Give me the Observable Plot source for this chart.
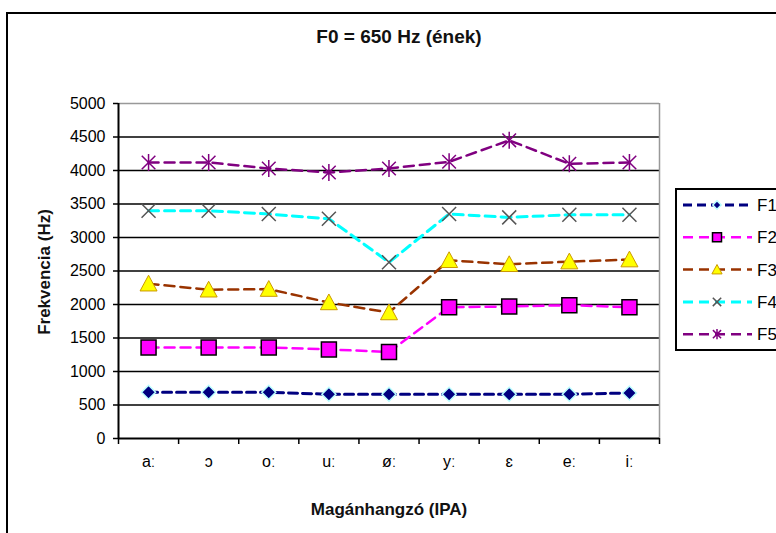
<!DOCTYPE html>
<html><head><meta charset="utf-8">
<script src="https://cdn.jsdelivr.net/npm/d3@7"></script>
<script src="https://cdn.jsdelivr.net/npm/@observablehq/plot@0.6"></script>
<style>
body{margin:0;background:#fff;font-family:"Liberation Sans",Arial,sans-serif;}
#wrap{position:relative;width:776px;height:533px;overflow:hidden;background:#fff;}
#frame{position:absolute;left:6px;top:12px;width:820px;height:580px;border:2px solid #000;box-sizing:border-box;}
#title{position:absolute;left:0;width:798px;top:26px;text-align:center;font-weight:bold;font-size:19px;color:#111;}
#chart{position:absolute;left:0;top:60px;}
#ytitle{position:absolute;left:45px;top:272px;transform:translate(-50%,-50%) rotate(-90deg);font-weight:bold;font-size:17px;white-space:nowrap;color:#111;}
#xtitle{position:absolute;left:389px;top:510px;transform:translate(-50%,-50%);font-weight:bold;font-size:17px;white-space:nowrap;color:#111;}
#legend{position:absolute;left:675px;top:188px;width:130px;height:163px;border:2px solid #000;box-sizing:border-box;background:#fff;}
</style></head>
<body>
<div id="wrap">
  <div id="frame"></div>
  <div id="title">F0 = 650 Hz (ének)</div>
  <div id="chart"></div>
  <div id="ytitle">Frekvencia (Hz)</div>
  <div id="xtitle">Magánhangzó (IPA)</div>
  <div id="legend"></div>
</div>
<script>
// ---- data ----
const categories = ["aː", "ɔ", "oː", "uː", "øː", "yː", "ɛ", "eː", "iː"];
const seriesNames = ["F1", "F2", "F3", "F4", "F5"];
const F1 = [690, 690, 690, 660, 660, 660, 660, 660, 680];
const F2 = [1360, 1360, 1360, 1330, 1290, 1960, 1970, 1990, 1960];
const F3 = [2310, 2220, 2230, 2030, 1880, 2660, 2600, 2640, 2670];
const F4 = [3400, 3400, 3350, 3280, 2630, 3350, 3300, 3340, 3340];
const F5 = [4120, 4120, 4030, 3970, 4030, 4130, 4450, 4100, 4120];
const yTicks = [0, 500, 1000, 1500, 2000, 2500, 3000, 3500, 4000, 4500, 5000];

const values = [F1, F2, F3, F4, F5];
const rows = seriesNames.flatMap((s, k) => values[k].map((v, i) => ({s, i, x: i + 0.5, v})));

// ---- symbols ----
const sym = fn => ({draw(c, size) { fn(c, Math.sqrt(size / Math.PI)); }});
const diamond = sym((c, r) => { c.moveTo(0, -r); c.lineTo(r, 0); c.lineTo(0, r); c.lineTo(-r, 0); c.closePath(); });
const square = sym((c, r) => { c.rect(-r, -r, 2 * r, 2 * r); });
const triangle = sym((c, r) => { c.moveTo(0, -r); c.lineTo(r, r * 0.85); c.lineTo(-r, r * 0.85); c.closePath(); });
const times = sym((c, r) => { c.moveTo(-r, -r); c.lineTo(r, r); c.moveTo(r, -r); c.lineTo(-r, r); });
const star = sym((c, r) => { const d = r * 0.8; c.moveTo(0, -r); c.lineTo(0, r); c.moveTo(-d, -d); c.lineTo(d, d); c.moveTo(d, -d); c.lineTo(-d, d); });

const styles = {
  F1: {line: "#000080", width: 3, dash: "9,5", symbol: diamond, r: 7, fill: "#000080", stroke: "#bff", sw: 1.5},
  F2: {line: "#ff00ff", width: 2.5, dash: "10,6", symbol: square, r: 7.5, fill: "#ff00ff", stroke: "#000", sw: 1.5},
  F3: {line: "#993300", width: 2.5, dash: "10,6", symbol: triangle, r: 8.5, fill: "#ffff00", stroke: "#cc9900", sw: 1},
  F4: {line: "#00ffff", width: 3, dash: "10,6", symbol: times, r: 7, fill: "none", stroke: "#555", sw: 1.5},
  F5: {line: "#800080", width: 2.5, dash: "10,6", symbol: star, r: 8.5, fill: "none", stroke: "#800080", sw: 1.5}
};

const lineMarks = seriesNames.map(s => Plot.line(rows.filter(d => d.s === s), {
  x: "x", y: "v", stroke: styles[s].line, strokeWidth: styles[s].width, strokeDasharray: styles[s].dash
}));
const dotMarks = seriesNames.map(s => Plot.dot(rows.filter(d => d.s === s), {
  x: "x", y: "v", symbol: styles[s].symbol, r: styles[s].r, fill: styles[s].fill,
  stroke: styles[s].stroke, strokeWidth: styles[s].sw
}));

const plot = Plot.plot({
  width: 776, height: 473,
  marginLeft: 118, marginRight: 117, marginTop: 43, marginBottom: 95,
  style: {fontFamily: "'Liberation Sans', Arial, sans-serif", color: "#000", background: "transparent"},
  x: {type: "linear", domain: [0, categories.length], axis: null},
  y: {domain: [0, 5000], axis: null},
  marks: [
    Plot.ruleY(yTicks.filter(v => v > 0 && v < 5000), {stroke: "#000", strokeWidth: 1.3}),
    Plot.ruleY([5000], {stroke: "#999", strokeWidth: 1.5}),
    Plot.ruleX([categories.length], {stroke: "#999", strokeWidth: 1.5}),
    ...lineMarks,
    ...dotMarks,
    Plot.ruleX([0], {stroke: "#000", strokeWidth: 2}),
    Plot.ruleY([0], {stroke: "#000", strokeWidth: 2}),
    Plot.axisY({ticks: yTicks, tickSize: 5, tickPadding: 8, tickFormat: d => String(d), fontSize: 16, label: null, strokeWidth: 1.5}),
    Plot.axisX({ticks: d3.range(categories.length + 1), tickSize: 6, tickFormat: () => "", label: null, strokeWidth: 1.5}),
    Plot.axisX(categories.map((c, i) => i + 0.5), {tickSize: 0, tickPadding: 17, tickFormat: d => categories[Math.floor(d)], fontSize: 16, label: null})
  ]
});
document.getElementById("chart").appendChild(plot);

// ---- legend ----
const lg = d3.select("#legend").append("svg").attr("width", 126).attr("height", 159).style("display", "block");
seriesNames.forEach((s, k) => {
  const st = styles[s];
  const y = 15 + k * 32.3;
  const g = lg.append("g").attr("transform", `translate(0,${y})`);
  g.append("line").attr("x1", 6).attr("x2", 75).attr("y1", 0).attr("y2", 0)
    .attr("stroke", st.line).attr("stroke-width", st.width).attr("stroke-dasharray", st.dash);
  const p = d3.path();
  const rr = st.r * 0.6;
  st.symbol.draw(p, rr * rr * Math.PI);
  g.append("path").attr("d", p.toString()).attr("transform", "translate(40,0)")
    .attr("fill", st.fill).attr("stroke", st.stroke).attr("stroke-width", st.sw);
  g.append("text").attr("x", 80).attr("y", 0).attr("dy", "0.35em").attr("font-size", 17)
    .attr("font-family", "'Liberation Sans', Arial, sans-serif").text(s);
});
</script>
</body></html>
